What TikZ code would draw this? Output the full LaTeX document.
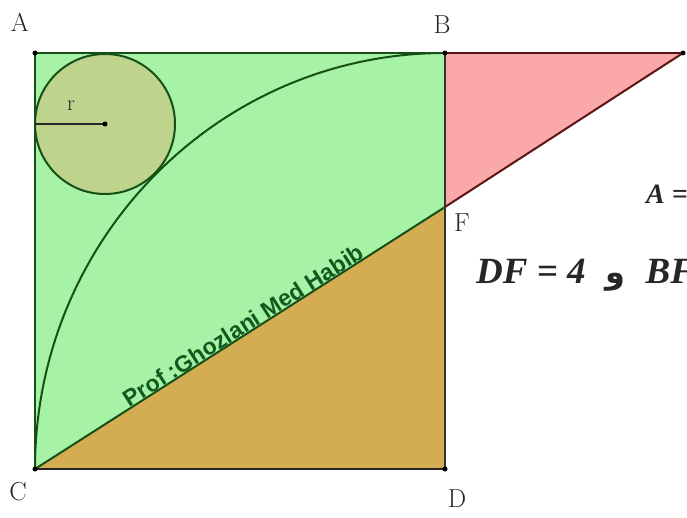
\documentclass[tikz,border=0pt]{standalone}
\usepackage{fontspec}
\newfontfamily\eqfont{Liberation Serif}
\newfontfamily\wmfont{Liberation Sans}
\newfontfamily\arabicfont[Script=Arabic]{DejaVu Sans}
\TeXXeTstate=1
\definecolor{sqgreen}{RGB}{166,242,166}
\definecolor{circfill}{RGB}{190,212,140}
\definecolor{pinkfill}{RGB}{250,168,170}
\definecolor{tanfill}{RGB}{212,172,82}
\definecolor{dkgreen}{RGB}{22,80,22}
\definecolor{dkred}{RGB}{90,20,20}
\definecolor{wmgreen}{RGB}{15,90,30}
\tikzset{
  ptlabel/.style={font=\fontsize{26}{26}\selectfont, text=black!85},
  dot/.style={circle, fill=black, inner sep=0pt, minimum size=5pt},
  edge/.style={line width=2pt},
}
\begin{document}
\begin{tikzpicture}[x=1pt,y=-1pt]
\useasboundingbox (0,0) rectangle (687,517);
\coordinate (A) at (35,53);
\coordinate (B) at (445,53);
\coordinate (C) at (35,469);
\coordinate (D) at (445,469);
\coordinate (F) at (445,207);
\coordinate (E) at (683,53);
\coordinate (O) at (105,124);
\coordinate (R) at (35,124);
% fills
\fill[sqgreen] (A) -- (B) -- (D) -- (C) -- cycle;
\fill[tanfill] (C) -- (D) -- (F) -- cycle;
\fill[pinkfill] (B) -- (E) -- (F) -- cycle;
\fill[circfill] (O) circle[radius=70];
% edges
\draw[edge, dkgreen] (A) -- (B);
\draw[edge, dkgreen] (A) -- (C);
\draw[edge, black!85] (C) -- (D);
\draw[edge, black!80] (B) -- (D);
\draw[edge, dkred] (B) -- (E);
\draw[edge, dkred] (E) -- (F);
\draw[edge, dkgreen] (C) -- (F);
\draw[edge, dkgreen] (C) arc[start angle=180, end angle=270, x radius=410, y radius=416];
\draw[edge, dkgreen] (O) circle[radius=70];
\draw[edge, black!85] (O) -- (R);
% dots
\foreach \p in {A,B,C,D,E,O} \node[dot] (d\p) at (\p) {};
% labels
\node[ptlabel] (lA) at (20,22) {A};
\node[ptlabel] (lB) at (442,25) {B};
\node[ptlabel] (lC) at (18,492) {C};
\node[ptlabel] (lD) at (457,499) {D};
\node[ptlabel] (lF) at (462,223) {F};
\node[font=\fontsize{22}{22}\selectfont, text=black!85] (lr) at (71,106) {r};
% watermark
\path (C) -- (F) node[pos=0.52, above, sloped, inner sep=0.5pt, text=wmgreen,
  font=\wmfont\bfseries\fontsize{23}{23}\selectfont] (wm) {Prof :Ghozlani Med Habib};
% equations (cut off at the right edge)
\node[anchor=base west, inner sep=0pt, font=\eqfont\bfseries\itshape\fontsize{28}{28}\selectfont, text=black!85] (eqA) at (646,203) {A =};
\node[anchor=base west, inner sep=0pt, font=\eqfont\bfseries\itshape\fontsize{37}{37}\selectfont, text=black!85] (eqDF) at (476,283)
  {DF = 4\hspace{20pt}{\arabicfont\upshape\bfseries\fontsize{32}{32}\selectfont\beginR و\endR}\hspace{20pt}BF};
\end{tikzpicture}
\end{document}
